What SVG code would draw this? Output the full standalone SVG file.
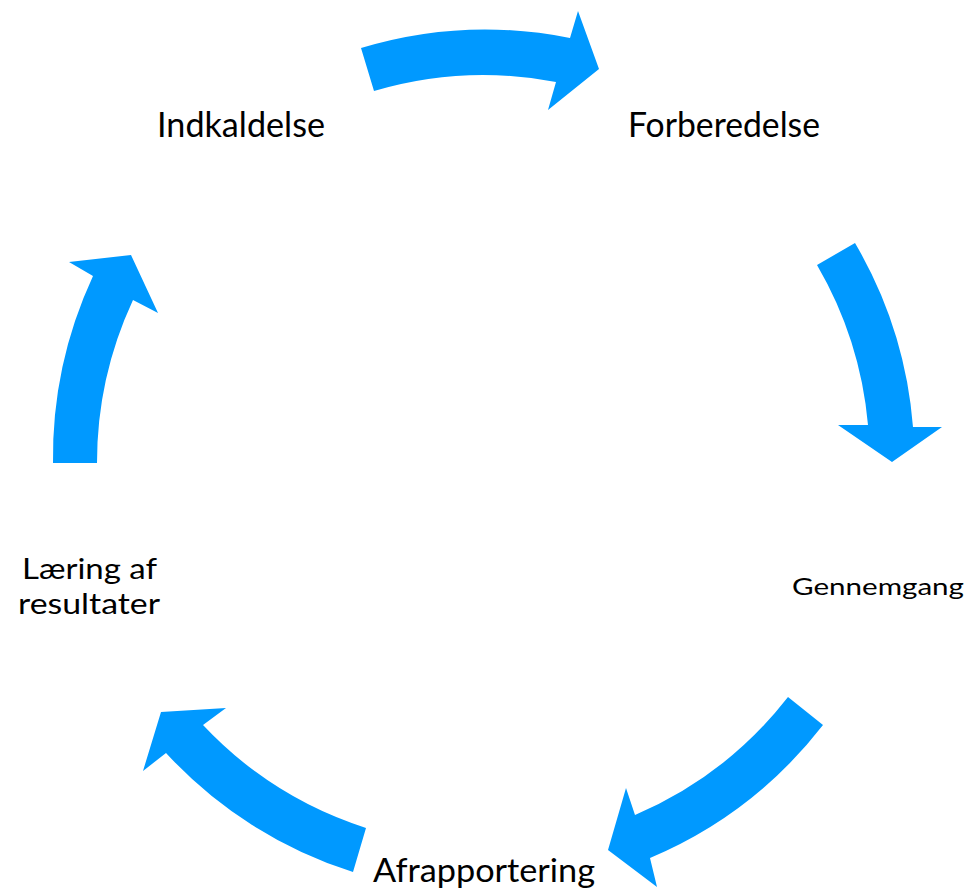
<svg xmlns="http://www.w3.org/2000/svg" width="967" height="895" viewBox="0 0 967 895">
<style>
.arrow{fill:#0099ff;stroke:none}
.lbl{font-family:Lato,"Open Sans",sans-serif;fill:#000}
</style>
<rect width="967" height="895" fill="#fff"/>
<g id="connectors">
<path class="arrow" d="M361,48 A431,431 0 0 1 570,38 L578,11 L599,69 L548,110 L556,82 A386,386 0 0 0 374,91 Z"/>
<path class="arrow" d="M855,243 A431,431 0 0 1 913,427 L942,427 L892,462 L838,425 L868,425 A386,386 0 0 0 817,265 Z"/>
<path class="arrow" d="M823,725 A431,431 0 0 1 650,858 L657,887 L608,850 L626,788 L635,815 A386,386 0 0 0 788,697 Z"/>
<path class="arrow" d="M353,872 A431,431 0 0 1 166,753 L143,771 L161,712 L226,708 L203,725 A386,386 0 0 0 366,828 Z"/>
<path class="arrow" d="M53,463 A431,431 0 0 1 93,276 L69,262 L131,255 L158,313 L133,300 A386,386 0 0 0 97,463 Z"/>
</g>
<g id="node-indkaldelse"><text class="lbl" x="157" y="137" font-size="34" textLength="168" lengthAdjust="spacingAndGlyphs">Indkaldelse</text></g>
<g id="node-forberedelse"><text class="lbl" x="628" y="137" font-size="34" textLength="192" lengthAdjust="spacingAndGlyphs">Forberedelse</text></g>
<g id="node-gennemgang"><text class="lbl" x="792" y="595" font-size="24" textLength="172" lengthAdjust="spacingAndGlyphs">Gennemgang</text></g>
<g id="node-afrapportering"><text class="lbl" x="373" y="882" font-size="33" textLength="222" lengthAdjust="spacingAndGlyphs">Afrapportering</text></g>
<g id="node-laering"><text class="lbl" font-size="29"><tspan x="22" y="579" textLength="135" lengthAdjust="spacingAndGlyphs">Læring af</tspan><tspan x="18" y="614" textLength="142" lengthAdjust="spacingAndGlyphs">resultater</tspan></text></g>
</svg>
